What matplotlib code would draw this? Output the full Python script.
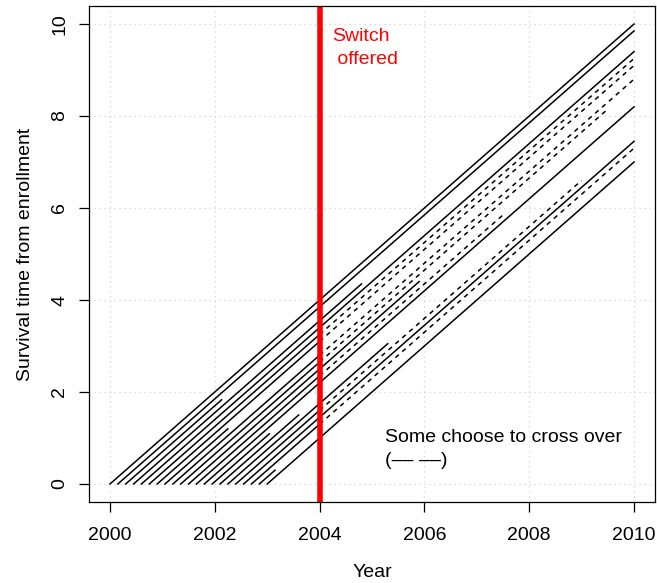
import numpy as np
import matplotlib.pyplot as plt

plt.rcParams['font.family'] = ['Liberation Sans', 'DejaVu Sans']

# enrollment year, end of follow-up, and whether patient crossed over after 2004
start_year = [2000.00, 2000.15, 2000.30, 2000.45, 2000.60, 2000.75, 2000.90,
              2001.05, 2001.20, 2001.35, 2001.50, 2001.65, 2001.80, 2001.95,
              2002.10, 2002.25, 2002.40, 2002.55, 2002.70, 2002.85, 2003.00]
end_year = [2010.0, 2010.0, 2002.13, 2004.8, 2010.0, 2010.0, 2010.0,
            2002.25, 2010.0, 2009.5, 2005.9, 2007.5, 2010.0, 2003.04,
            2003.6, 2005.3, 2009.0, 2010.0, 2010.0, 2003.15, 2010.0]
crossover = [0, 0, 0, 0, 0, 1, 1, 0, 1, 1, 0, 1, 0, 0, 0, 0, 1, 0, 1, 0, 0]
switch_year = 2004

fs = 14

fig = plt.figure(figsize=(6.57, 5.83), dpi=100)
ax = fig.add_axes([89/657, 1 - 502.4/583, (655 - 89)/657, (502.4 - 5.6)/583])

# grid like R's grid()
for gx in range(2000, 2011, 2):
    ax.axvline(gx, color='#d3d3d3', lw=0.9, ls=(0, (1, 3)), zorder=0)
for gy in range(0, 11, 2):
    ax.axhline(gy, color='#d3d3d3', lw=0.9, ls=(0, (1, 3)), zorder=0)

for s, e, c in zip(start_year, end_year, crossover):
    if c and e > switch_year:
        ax.plot([s, switch_year], [0, switch_year - s], color='black', lw=1.1)
        ax.plot([switch_year, e], [switch_year - s, e - s], color='black', lw=1.1,
                ls=(0, (3, 3)))
    else:
        ax.plot([s, e], [0, e - s], color='black', lw=1.1)

ax.axvline(switch_year, color='#ff0000', lw=4)

ax.text(2004.23, 9.48, 'Switch\n offered', color='#ff0000', fontsize=fs,
        ha='left', va='center', linespacing=1.45)
ax.text(2005.25, 0.76, 'Some choose to cross over\n(–– ––)', color='black',
        fontsize=fs, ha='left', va='center', linespacing=1.45)

ax.set_xlim(1999.6, 2010.4)
ax.set_ylim(-0.4, 10.4)
ax.set_xticks(range(2000, 2011, 2))
ax.set_yticks(range(0, 11, 2))
ax.tick_params(direction='out', length=7, labelsize=fs, width=0.9)
ax.tick_params(axis='x', pad=11)
ax.tick_params(axis='y', pad=8)
plt.setp(ax.get_yticklabels(), rotation=90, va='center')
for sp in ax.spines.values():
    sp.set_linewidth(0.9)

ax.set_xlabel('Year', fontsize=fs, labelpad=14)
ax.set_ylabel('Survival time from enrollment', fontsize=fs, labelpad=12)

fig.savefig('out.png', dpi=100)
